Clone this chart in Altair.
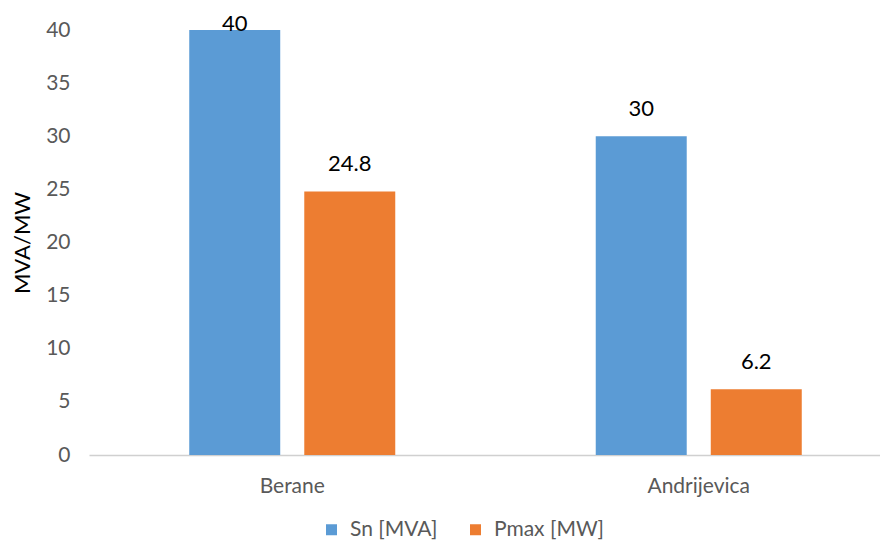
import altair as alt
import pandas as pd

categories = ["Berane", "Andrijevica"]
series = ["Sn [MVA]", "Pmax [MW]"]
sn_values = [40, 30]
pmax_values = [24.8, 6.2]
colors = ["#5B9BD5", "#ED7D31"]

rows = []
for i, c in enumerate(categories):
    rows.append({"cat": c, "series": series[0], "value": sn_values[i]})
    rows.append({"cat": c, "series": series[1], "value": pmax_values[i]})
df = pd.DataFrame(rows)

FONT = "Lato"

x = alt.X(
    "cat:N", sort=categories, title=None,
    scale=alt.Scale(range=[-3, 810], paddingInner=0.4932, paddingOuter=0.2466),
    axis=alt.Axis(labelAngle=0, labelFont=FONT, labelFontSize=21, labelColor="#595959",
                  ticks=False, domainColor="#d0d0d0", domainWidth=1.5, labelPadding=20),
)
xo = alt.XOffset("series:N", sort=series,
                 scale=alt.Scale(paddingInner=0.209, paddingOuter=0))
y = alt.Y(
    "value:Q",
    scale=alt.Scale(domain=[0, 40], nice=False),
    axis=alt.Axis(values=[0, 5, 10, 15, 20, 25, 30, 35, 40], grid=False, domain=False,
                  ticks=False, labelFont=FONT, labelFontSize=21, labelColor="#595959",
                  labelPadding=22, title="MVA/MW", titleFont=FONT, titleFontSize=22,
                  titleColor="#000000", titleFontWeight="normal", titlePadding=11),
)
color = alt.Color(
    "series:N", sort=series,
    scale=alt.Scale(domain=series, range=colors),
    legend=alt.Legend(title=None, orient="none", legendX=229, legendY=489,
                      direction="horizontal", symbolType="square", symbolSize=121,
                      symbolStrokeWidth=0, labelFont=FONT, labelFontSize=21,
                      labelColor="#595959", columnPadding=27, labelOffset=8),
)

bars = alt.Chart(df).mark_bar().encode(x=x, xOffset=xo, y=y, color=color)

text = alt.Chart(df).transform_calculate(
    label_y="min(datum.value + 1.9, 39.9)",
    label="format(datum.value, '~g')",
).mark_text(baseline="alphabetic", font=FONT, fontSize=22, color="#000000").encode(
    x=x, xOffset=xo,
    y=alt.Y("label_y:Q"),
    text="label:N",
)

chart = alt.layer(bars, text).properties(
    width=780, height=425,
    autosize=alt.AutoSizeParams(type="none"),
    padding={"left": 84, "top": 22, "right": 8, "bottom": 86},
).configure_view(stroke=None)

chart.save("out.html", embed_options={"renderer": "svg", "actions": False})
